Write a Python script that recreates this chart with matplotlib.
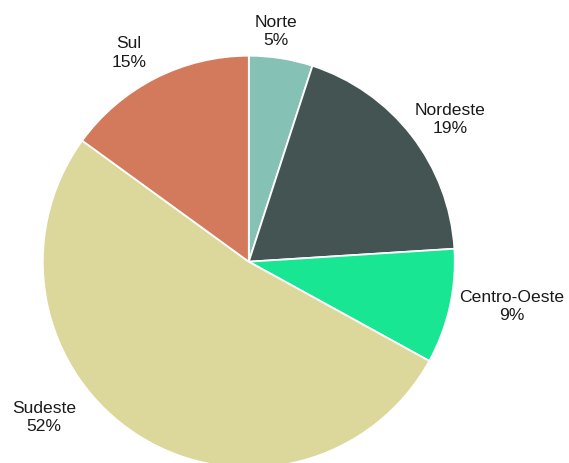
import matplotlib.pyplot as plt

regioes = ["Norte", "Nordeste", "Centro-Oeste", "Sudeste", "Sul"]
percentuais = [5, 19, 9, 52, 15]
cores = ["#85c1b5", "#435453", "#18e693", "#dcd89c", "#d27a5b"]

# label positions in units of the pie radius (layout only)
pos_rotulos = [(0.132, 1.123), (0.978, 0.695), (1.278, -0.213),
               (-0.994, -0.751), (-0.582, 1.019)]

W, H = 569, 464
cx, cy, r = 248.8, 262.7, 206

fig = plt.figure(figsize=(W / 100, H / 100), dpi=100)
ax = fig.add_axes([0, 0, 1, 1])
ax.axis('off')

ax.pie(percentuais, colors=cores, startangle=90, counterclock=False,
       radius=1, center=(0, 0),
       wedgeprops=dict(edgecolor='white', linewidth=1.3))

for nome, p, (x, y) in zip(regioes, percentuais, pos_rotulos):
    ax.text(x, y, f"{nome}\n{p}%", ha='center', va='center',
            fontsize=12.6, family=['Liberation Sans', 'DejaVu Sans'],
            color='#1a1a1a', linespacing=1.3)

ax.set_xlim(-cx / r, (W - cx) / r)
ax.set_ylim(-(H - cy) / r, cy / r)
ax.set_aspect('auto')

plt.savefig("out.png", dpi=100)
